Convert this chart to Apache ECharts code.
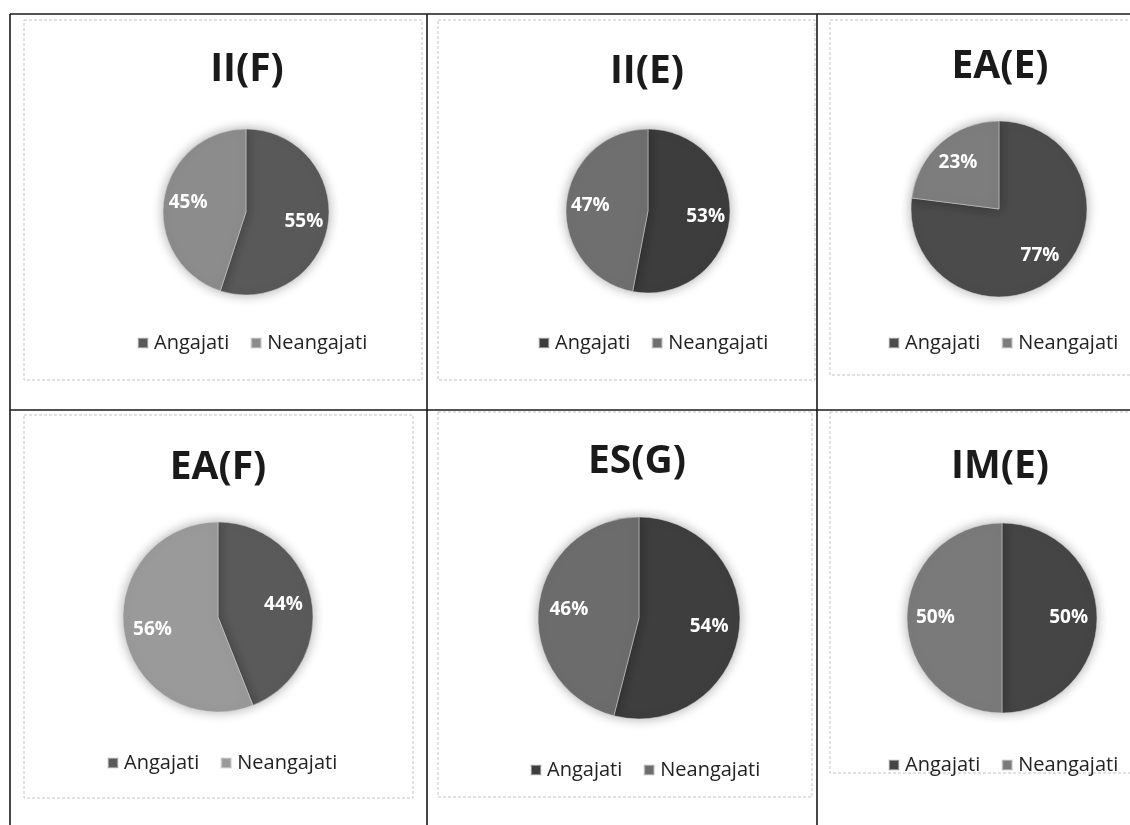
<!DOCTYPE html>
<html>
<head>
<meta charset="utf-8">
<script src="https://cdn.jsdelivr.net/npm/echarts@6/dist/echarts.min.js"></script>
<style>
html,body{margin:0;padding:0;background:#fff;}
#chart{width:1130px;height:825px;}
</style>
</head>
<body>
<div id="chart"></div>
<script>
// ---- data ----
const titles = ['II(F)', 'II(E)', 'EA(E)', 'EA(F)', 'ES(G)', 'IM(E)'];
const categories = ['Angajati', 'Neangajati'];
const angajati = [55, 53, 77, 44, 54, 50];
const neangajati = [45, 47, 23, 56, 46, 50];

// ---- layout / style (not data) ----
const pieCenters = [[246, 212], [648, 211], [999, 209], [218, 617], [639, 618], [1002, 618]];
const pieRadii = [83, 82, 88, 95, 101, 95];
const titlePos = [[247, 70], [647, 72], [1000, 67], [218, 468], [637, 462], [1000, 467]];
const legendPos = [[137, 343], [538, 343], [888, 343], [107, 763], [530, 770], [888, 765]];
const colorsA = ['#595959', '#3d3d3d', '#4b4b4b', '#5a5a5a', '#3e3e3e', '#454545'];
const colorsN = ['#8c8c8c', '#6f6f6f', '#7d7d7d', '#9a9a9a', '#6c6c6c', '#7a7a7a'];
const frames = [[24, 20, 398, 360], [438, 20, 377, 360], [830, 20, 310, 355],
                [24, 415, 389, 383], [438, 412, 374, 385], [830, 412, 310, 361]];
const labelFactor = 0.67;
const FONT = '"Open Sans", "Liberation Sans", sans-serif';

const chart = echarts.init(document.getElementById('chart'));

const title = titles.map((t, i) => ({
  text: t,
  left: titlePos[i][0],
  top: titlePos[i][1],
  textAlign: 'center',
  textVerticalAlign: 'middle',
  padding: 0,
  textStyle: { fontFamily: FONT, fontWeight: 'bold', fontSize: 39, color: '#1a1a1a' }
}));

const legend = titles.map((t, i) => ({
  left: legendPos[i][0],
  top: legendPos[i][1] - 10,
  padding: 0,
  icon: 'rect',
  itemWidth: 10,
  itemHeight: 10,
  itemGap: 21,
  selectedMode: false,
  textStyle: { fontFamily: FONT, fontSize: 20, color: '#222', padding: [0, 0, 0, 1] },
  data: [
    { name: categories[0], itemStyle: { color: colorsA[i] } },
    { name: categories[1], itemStyle: { color: colorsN[i] } }
  ]
}));

const series = [];
titles.forEach((t, i) => {
  const data = [
    { name: categories[0], value: angajati[i], itemStyle: { color: colorsA[i] } },
    { name: categories[1], value: neangajati[i], itemStyle: { color: colorsN[i] } }
  ];
  series.push({
    type: 'pie',
    name: t,
    center: pieCenters[i],
    radius: [0, pieRadii[i]],
    startAngle: 90,
    clockwise: true,
    avoidLabelOverlap: false,
    label: { show: false },
    labelLine: { show: false },
    emphasis: { disabled: true },
    itemStyle: {
      borderColor: 'rgba(220,220,220,0.5)',
      borderWidth: 1,
      shadowBlur: 12,
      shadowColor: 'rgba(0,0,0,0.32)'
    },
    data: data
  });
  // transparent overlay carrying the labels at ~2/3 of the radius
  series.push({
    type: 'pie',
    name: t + ' labels',
    center: pieCenters[i],
    radius: [0, pieRadii[i] * labelFactor * 2],
    startAngle: 90,
    clockwise: true,
    silent: true,
    avoidLabelOverlap: false,
    emphasis: { disabled: true },
    itemStyle: { color: 'rgba(0,0,0,0)', borderWidth: 0 },
    label: {
      show: true,
      position: 'inside',
      formatter: '{c}%',
      fontFamily: FONT,
      fontWeight: 'bold',
      fontSize: 19,
      color: '#ffffff'
    },
    labelLine: { show: false },
    data: [
      { name: categories[0], value: angajati[i] },
      { name: categories[1], value: neangajati[i] }
    ]
  });
});

const graphic = [];
frames.forEach(f => {
  graphic.push({
    type: 'rect', silent: true, z: -1,
    shape: { x: f[0], y: f[1], width: f[2], height: f[3] },
    style: { fill: 'none', stroke: '#c4c4c4', lineWidth: 1, lineDash: [3, 2] }
  });
});
const gridLines = [[10, 14, 1130, 14], [10, 410, 1130, 410], [10, 14, 10, 825], [427, 14, 427, 825], [817, 14, 817, 825]];
gridLines.forEach(l => {
  graphic.push({
    type: 'line', silent: true, z: 0,
    shape: { x1: l[0], y1: l[1], x2: l[2], y2: l[3] },
    style: { stroke: '#1a1a1a', lineWidth: 1.6 }
  });
});

chart.setOption({
  backgroundColor: '#ffffff',
  animation: false,
  title: title,
  legend: legend,
  graphic: graphic,
  series: series
});
</script>
</body>
</html>
